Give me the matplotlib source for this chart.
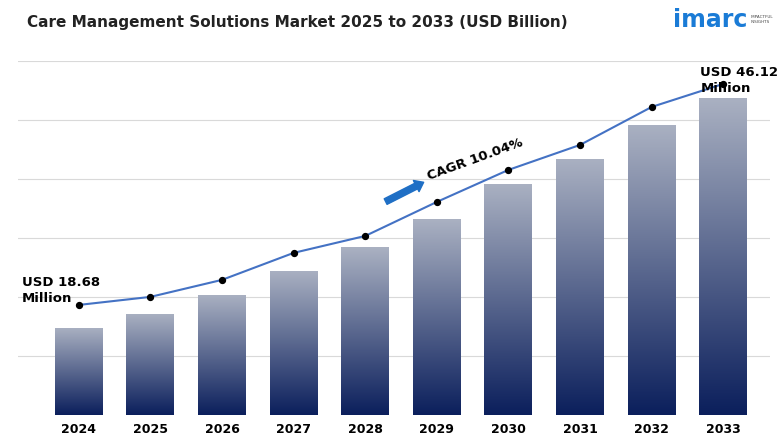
import matplotlib
matplotlib.use("Agg")
import matplotlib.pyplot as plt
import numpy as np
from matplotlib.colors import LinearSegmentedColormap

years = ["2024","2025","2026","2027","2028","2029","2030","2031","2032","2033"]
bar_values = [18.68, 20.35, 22.62, 25.48, 28.34, 31.68, 35.86, 38.84, 42.90, 46.12]
line_values = [21.42, 22.38, 24.41, 27.63, 29.65, 33.71, 37.53, 40.51, 45.04, 47.79]
base = 8.3

fig = plt.figure(figsize=(7.8, 4.4), dpi=100)
ax = fig.add_axes([0.023, 0.057, 0.964, 0.804])
ax.set_xlim(-0.85, 9.65)
ax.set_ylim(base, 50.5)

for yv in np.linspace(base, 50.5, 7)[1:]:
    ax.axhline(yv, color="#d9d9d9", lw=0.8, zorder=0)

cmap = LinearSegmentedColormap.from_list("g", ["#0b1f5c", "#aab1c2"])
grad = np.linspace(0, 1, 256).reshape(-1, 1)
w = 0.67
x = np.arange(len(years))
for i, v in enumerate(bar_values):
    rect = plt.Rectangle((i - w/2, base), w, v - base, transform=ax.transData, fc="none", ec="none")
    ax.add_patch(rect)
    im = ax.imshow(grad, cmap=cmap, aspect="auto", origin="lower",
                   extent=(i - w/2, i + w/2, base, v), zorder=2)
    im.set_clip_path(rect)
ax.set_xlim(-0.85, 9.65)
ax.set_ylim(base, 50.5)

ax.plot(x, line_values, color="#4472c4", lw=1.5, zorder=3)
ax.scatter(x, line_values, color="black", s=18, zorder=4)

for s in ax.spines.values():
    s.set_visible(False)
ax.set_yticks([])
ax.set_xticks(x)
ax.set_xticklabels(years, fontweight="bold", fontsize=9)
ax.tick_params(axis="x", length=0, pad=6)

ax.text(-0.8, 23.1, "USD 18.68\nMillion", fontsize=9.5, fontweight="bold", va="center", ha="left", linespacing=1.3)
ax.text(8.68, 48.2, "USD 46.12\nMillion", fontsize=9.5, fontweight="bold", va="center", ha="left", linespacing=1.3)
ax.annotate("", xy=(4.85, 36.2), xytext=(4.25, 33.6),
            arrowprops=dict(arrowstyle="simple,head_width=0.9,head_length=0.6,tail_width=0.45",
                            color="#1f6fc5"), zorder=5)
ax.text(4.9, 36.0, "CAGR 10.04%", fontsize=9.5, fontweight="bold", rotation=20,
        ha="left", va="bottom", rotation_mode="anchor")

fig.text(0.035, 0.95, "Care Management Solutions Market 2025 to 2033 (USD Billion)",
         fontsize=11, fontweight="bold", va="center", ha="left", color="#222222")
fig.text(0.863, 0.955, "imarc", fontsize=17, fontweight="bold", color="#1a7bd6", va="center", ha="left")
fig.text(0.962, 0.955, "IMPACTFUL\nINSIGHTS", fontsize=3, color="#444444", va="center", ha="left")

fig.savefig("out.png", dpi=100)
